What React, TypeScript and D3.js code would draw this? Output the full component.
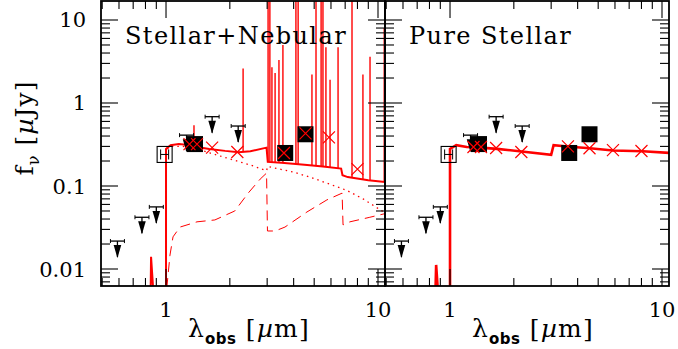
import { useEffect, useRef } from 'react'
import * as d3 from 'd3'

// wavelength [micron], flux [microJy]
const nebTotal: [number, number][] = [
  [0.8, 1e-3], [0.84, 1e-3], [0.85, 0.014], [0.91, 1e-3], [1.0, 1e-3], [1.0, 0.28], [1.05, 0.31],
  [1.15, 0.32], [1.3, 0.31], [1.4, 0.295], [1.6, 0.28], [1.9, 0.265], [2.2, 0.255], [2.5, 0.262],
  [2.98, 0.29], [3.02, 0.195], [3.5, 0.19], [4.5, 0.18], [5.5, 0.172], [6.7, 0.162], [6.8, 0.135],
  [7.2, 0.128], [9, 0.117], [11, 0.111],
]
const nebStars: [number, number][] = [
  [1.0, 1e-3], [1.0, 0.27], [1.05, 0.3], [1.2, 0.3], [1.4, 0.28], [1.61, 0.25], [2.0, 0.212],
  [2.5, 0.179], [2.98, 0.153], [3.02, 0.172], [4.0, 0.147], [4.77, 0.128], [6.0, 0.104],
  [7.1, 0.089], [8.5, 0.07], [11, 0.046],
]
const nebGas: [number, number][] = [
  [1.0, 1e-3], [1.011, 0.0063], [1.044, 0.0147], [1.079, 0.0244], [1.164, 0.032], [1.4, 0.037],
  [1.7, 0.039], [2.11, 0.05], [2.44, 0.082], [2.78, 0.121], [2.98, 0.143], [3.01, 0.0287],
  [3.27, 0.0287], [3.64, 0.032], [4.62, 0.0486], [5.74, 0.068], [6.77, 0.082], [6.84, 0.034],
  [7.37, 0.037], [9.15, 0.042], [11, 0.047],
]
// emission lines: wavelength, peak flux
const lineWave = [1.355, 2.31, 3.03, 3.09, 3.16, 3.27, 3.41, 3.56, 4.1, 4.2, 4.88, 5.1, 5.39, 5.5, 5.68, 5.94, 6.48, 7.54, 8.49, 9.17, 10.7]
const linePeak = [0.54, 2.6, 30, 30, 2.7, 2.3, 3.3, 5.0, 30, 30, 2.2, 30, 30, 30, 4.7, 1.9, 4.7, 30, 2.2, 3.6, 8.0]

const pureStars: [number, number][] = [
  [0.8, 1e-3], [0.84, 1e-3], [0.86, 0.0112], [0.917, 1e-3], [1.0, 1e-3], [1.0, 0.28], [1.07, 0.31],
  [1.2, 0.295], [1.39, 0.29], [1.67, 0.28], [2.18, 0.26], [3.0, 0.237], [3.08, 0.31], [3.68, 0.297],
  [4.57, 0.285], [5.87, 0.268], [8.1, 0.262], [11, 0.25],
]

// observations
const detWave = [1.37, 3.65, 4.55]
const detFlux = [0.32, 0.25, 0.42]
const weakWave = [0.985]
const weakFlux = [0.24]
const limWave = [0.59, 0.77, 0.9, 1.25, 1.65, 2.19]
const limFlux = [0.0217, 0.042, 0.056, 0.41, 0.684, 0.528]

// model photometry
const bandWave = [1.29, 1.4, 1.65, 2.17, 3.6, 4.55, 5.87, 8.0]
const nebBandFlux = [0.32, 0.32, 0.29, 0.257, 0.25, 0.43, 0.385, 0.16]
const pureBandFlux = [0.295, 0.295, 0.287, 0.257, 0.3, 0.285, 0.27, 0.264]

const xMajor = [1, 10]
const xMinor = [0.5, 0.6, 0.7, 0.8, 0.9, 2, 3, 4, 5, 6, 7, 8, 9]
const yMajor = [0.01, 0.1, 1, 10]
const yMinor = [0.007, 0.008, 0.009, 0.02, 0.03, 0.04, 0.05, 0.06, 0.07, 0.08, 0.09,
  0.2, 0.3, 0.4, 0.5, 0.6, 0.7, 0.8, 0.9, 2, 3, 4, 5, 6, 7, 8, 9]
const yLabels = ['0.01', '0.1', '1', '10']
const xLabels = ['1', '10']

const RED = '#ff0000'
const SERIF = 'DejaVu Serif, serif'

export default function App() {
  const ref = useRef<SVGSVGElement>(null)

  useEffect(() => {
    if (!ref.current) return
    const svg = d3.select(ref.current)
    svg.selectAll('*').remove()

    const top = 1, bottom = 286
    const y = d3.scaleLog().domain([0.00624, 16.94]).range([bottom, top])

    const panels = [
      { x0: 101, x1: 385, title: 'Stellar+Nebular', neb: true },
      { x0: 385, x1: 669, title: 'Pure Stellar', neb: false },
    ]

    panels.forEach((p, pi) => {
      const x = d3.scaleLog().domain([0.4935, 10.79]).range([p.x0, p.x1])
      const line = d3.line<[number, number]>().x(d => x(d[0])).y(d => y(d[1]))

      const clipId = `clip${pi}`
      svg.append('clipPath').attr('id', clipId)
        .append('rect').attr('x', p.x0).attr('y', top).attr('width', p.x1 - p.x0).attr('height', bottom - top)
      const g = svg.append('g').attr('clip-path', `url(#${clipId})`)

      if (p.neb) {
        g.append('path').attr('d', line(nebGas)).attr('fill', 'none')
          .attr('stroke', RED).attr('stroke-width', 1).attr('stroke-dasharray', '10,6')
        g.append('path').attr('d', line(nebStars)).attr('fill', 'none')
          .attr('stroke', RED).attr('stroke-width', 1.3).attr('stroke-dasharray', '1.5,4')
        g.append('path').attr('d', line(nebTotal)).attr('fill', 'none')
          .attr('stroke', RED).attr('stroke-width', 2)
        // emission lines rise from the continuum
        const cont = (w: number) => {
          const i = d3.bisector((d: [number, number]) => d[0]).right(nebTotal, w)
          const a = nebTotal[i - 1], b = nebTotal[i]
          const t = (Math.log(w) - Math.log(a[0])) / (Math.log(b[0]) - Math.log(a[0]))
          return Math.exp(Math.log(a[1]) + t * (Math.log(b[1]) - Math.log(a[1])))
        }
        lineWave.forEach((w, i) => {
          g.append('line')
            .attr('x1', x(w)).attr('x2', x(w))
            .attr('y1', y(cont(w))).attr('y2', y(linePeak[i]))
            .attr('stroke', RED).attr('stroke-width', 1.4)
        })
      } else {
        g.append('path').attr('d', line(pureStars)).attr('fill', 'none')
          .attr('stroke', RED).attr('stroke-width', 2.6)
      }

      // upper limits
      limWave.forEach((w, i) => {
        const cx = x(w), cy = y(limFlux[i])
        const u = g.append('g')
        u.append('line').attr('x1', cx - 7).attr('x2', cx + 7).attr('y1', cy).attr('y2', cy)
          .attr('stroke', '#000').attr('stroke-width', 1.3)
        u.append('line').attr('x1', cx - 7).attr('x2', cx - 7).attr('y1', cy - 2).attr('y2', cy + 2)
          .attr('stroke', '#000').attr('stroke-width', 1)
        u.append('line').attr('x1', cx + 7).attr('x2', cx + 7).attr('y1', cy - 2).attr('y2', cy + 2)
          .attr('stroke', '#000').attr('stroke-width', 1)
        u.append('line').attr('x1', cx).attr('x2', cx).attr('y1', cy).attr('y2', cy + 16)
          .attr('stroke', '#000').attr('stroke-width', 1.3)
        u.append('path')
          .attr('d', `M${cx - 3.8},${cy + 4}L${cx + 3.8},${cy + 4}L${cx},${cy + 17}Z`)
          .attr('fill', '#000')
      })

      // weak detection (open box with bar)
      weakWave.forEach((w, i) => {
        const cx = x(w), cy = y(weakFlux[i])
        g.append('rect').attr('x', cx - 7.5).attr('y', cy - 8).attr('width', 15).attr('height', 16)
          .attr('fill', 'none').attr('stroke', '#000').attr('stroke-width', 1.1)
        g.append('line').attr('x1', cx - 4).attr('x2', cx + 4).attr('y1', cy).attr('y2', cy)
          .attr('stroke', '#000').attr('stroke-width', 1)
        g.append('line').attr('x1', cx - 4).attr('x2', cx - 4).attr('y1', cy - 5).attr('y2', cy + 5)
          .attr('stroke', '#000').attr('stroke-width', 1)
        g.append('line').attr('x1', cx + 4).attr('x2', cx + 4).attr('y1', cy - 5).attr('y2', cy + 5)
          .attr('stroke', '#000').attr('stroke-width', 1)
      })

      // detections
      detWave.forEach((w, i) => {
        g.append('rect').attr('x', x(w) - 8).attr('y', y(detFlux[i]) - 8)
          .attr('width', 16).attr('height', 16).attr('fill', '#000')
      })

      // model band fluxes
      const bf = p.neb ? nebBandFlux : pureBandFlux
      bandWave.forEach((w, i) => {
        const cx = x(w), cy = y(bf[i]), s = 6
        g.append('path')
          .attr('d', `M${cx - s},${cy - s}L${cx + s},${cy + s}M${cx - s},${cy + s}L${cx + s},${cy - s}`)
          .attr('stroke', RED).attr('stroke-width', 1.2).attr('fill', 'none')
      })

      // frame
      svg.append('rect').attr('x', p.x0).attr('y', top).attr('width', p.x1 - p.x0).attr('height', bottom - top)
        .attr('fill', 'none').attr('stroke', '#000').attr('stroke-width', 1.8)

      // ticks, all inward
      const tk = svg.append('g').attr('stroke', '#000').attr('stroke-width', 1.1)
      const xt = (vals: number[], len: number) => vals.forEach(v => {
        const px = x(v)
        tk.append('line').attr('x1', px).attr('x2', px).attr('y1', bottom).attr('y2', bottom - len)
        tk.append('line').attr('x1', px).attr('x2', px).attr('y1', top).attr('y2', top + len)
      })
      xt(xMajor, 17)
      xt(xMinor, 8)
      const yt = (vals: number[], len: number) => vals.forEach(v => {
        const py = y(v)
        tk.append('line').attr('x1', p.x0).attr('x2', p.x0 + len).attr('y1', py).attr('y2', py)
        tk.append('line').attr('x1', p.x1).attr('x2', p.x1 - len).attr('y1', py).attr('y2', py)
      })
      yt(yMajor, 17)
      yt(yMinor, 9)

      // tick labels
      xMajor.forEach((v, i) => {
        svg.append('text').attr('x', x(v)).attr('y', 317).attr('text-anchor', 'middle')
          .style('font-family', SERIF).style('font-size', '21px').text(xLabels[i])
      })
      if (pi === 0) {
        yMajor.forEach((v, i) => {
          svg.append('text').attr('x', 86).attr('y', y(v) + 7.5).attr('text-anchor', 'end')
            .style('font-family', SERIF).style('font-size', '21px').text(yLabels[i])
        })
      }

      // panel title
      svg.append('text').attr('x', p.x0 + 24).attr('y', 44)
        .style('font-family', SERIF).style('font-size', '24px').style('letter-spacing', '1.4px')
        .text(p.title)

      // x axis title
      const xl = svg.append('text').attr('x', p.x0 + 87).attr('y', 337)
        .style('font-family', SERIF).style('font-size', '25px').style('letter-spacing', '1.2px')
      xl.append('tspan').text('λ')
      xl.append('tspan').attr('dy', 7).style('font-family', 'DejaVu Sans, sans-serif')
        .style('font-size', '15px').style('font-weight', 'bold').style('letter-spacing', '0.5px').text('obs')
      xl.append('tspan').attr('dy', -7).text(' [')
      xl.append('tspan').style('font-style', 'italic').text('µ')
      xl.append('tspan').text('m]')
    })

    // y axis title
    const yl = svg.append('text').attr('transform', 'translate(33,128) rotate(-90)')
      .attr('text-anchor', 'middle').style('font-family', SERIF).style('font-size', '25px')
      .style('letter-spacing', '1px')
    yl.append('tspan').text('f')
    yl.append('tspan').attr('dy', 6).style('font-size', '16px').text('ν')
    yl.append('tspan').attr('dy', -6).text(' [')
    yl.append('tspan').style('font-style', 'italic').text('µ')
    yl.append('tspan').text('Jy]')
  }, [])

  return (
    <svg ref={ref} width={678} height={349}
      style={{ position: 'absolute', left: 0, top: 0, background: '#fff' }} />
  )
}
